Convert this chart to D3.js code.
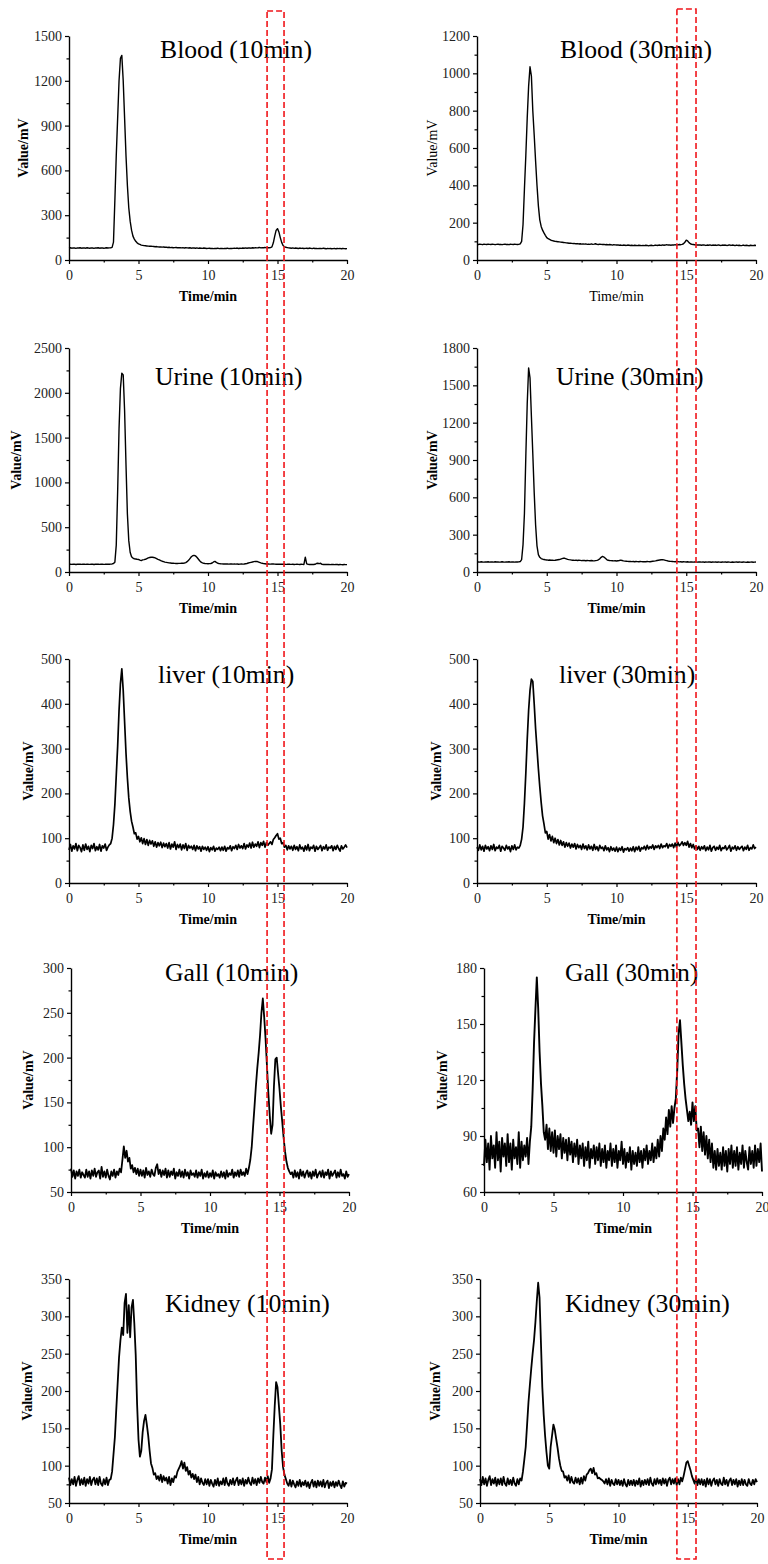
<!DOCTYPE html>
<html>
<head>
<meta charset="utf-8">
<script src="https://cdn.jsdelivr.net/npm/d3@7"></script>
<style>
body{margin:0;background:#fff}
svg{display:block}
</style>
</head>
<body>
<div id="chart"></div>
<script>
// sampling of every trace, minutes
var timeStep = 0.1
var xTicks = [0, 5, 10, 15, 20]
var xMinor = [2.5, 7.5, 12.5, 17.5]

var titles = ["Blood (10min)", "Blood (30min)", "Urine (10min)", "Urine (30min)", "liver (10min)",
  "liver (30min)", "Gall (10min)", "Gall (30min)", "Kidney (10min)", "Kidney (30min)"]
var yDomains = [[0,1500],[0,1200],[0,2500],[0,1800],[0,500],[0,500],[50,300],[60,180],[50,350],[50,350]]
var yTickSteps = [300, 200, 500, 300, 100, 100, 50, 30, 50, 50]
var boldLabels = [true, false, true, true, true, true, true, true, true, true]
// the dashed boxes, minutes on the left / right column
var boxLeft = [14.25, 15.47]
var boxRight = [14.33, 15.7]

var bloodTen = [
80,82,79,81,80,78,81,80,82,79,
80,81,79,82,80,79,81,80,78,81,
80,82,79,80,81,79,80,82,80,81,
82,85,120,400,700,950,1200,1350,1370,1200,
950,700,500,350,260,200,160,140,125,115,
108,104,100,98,96,95,94,93,92,92,
91,90,89,90,88,87,88,86,87,85,
86,84,85,83,84,82,83,84,82,83,
82,81,83,80,82,81,80,82,79,81,
80,79,81,78,80,79,78,80,79,77,
78,79,77,78,76,78,77,79,76,77,
78,76,78,77,79,76,78,77,78,79,
78,80,77,79,78,80,79,81,79,80,
81,79,82,80,83,81,82,84,81,83,
82,84,81,83,82,83,88,115,160,198,
210,188,150,118,97,89,85,83,81,80,
79,81,78,80,79,77,80,78,79,77,
78,79,77,80,78,76,79,77,78,76,
77,78,76,79,77,75,78,76,77,75,
76,78,75,77,76,78,75,77,76,75,
76]

var bloodThirty = [
84,83,85,84,82,85,84,83,85,84,
83,85,84,82,84,85,83,84,82,84,
85,83,84,82,85,84,83,85,84,83,
84,86,100,190,380,560,760,930,1035,985,
800,670,530,400,290,215,180,160,145,132,
120,114,110,106,104,102,100,99,98,97,
96,95,94,93,92,91,90,90,89,88,
88,87,88,86,87,85,86,85,86,84,
85,84,86,84,85,87,84,83,85,84,
83,84,82,83,81,83,82,80,82,81,
80,81,79,80,78,80,79,78,80,79,
78,79,77,79,78,77,79,78,77,78,
77,79,78,76,78,79,77,78,80,78,
79,80,78,81,79,80,82,80,81,79,
81,80,82,80,81,83,82,84,87,95,
106,102,93,87,84,83,82,81,80,81,
80,79,81,80,78,80,79,81,78,80,
79,80,78,81,79,78,80,79,80,78,
79,81,78,80,79,77,80,78,79,77,
78,80,77,79,78,76,79,78,77,79,
78]

var urineTen = [
86,88,85,87,86,84,87,86,88,85,
86,87,85,88,86,85,87,86,84,87,
86,88,85,86,87,85,86,88,86,87,
88,90,95,110,300,900,1600,2050,2220,2200,
1800,1200,650,350,220,170,155,148,145,142,
140,132,128,135,138,142,150,158,162,165,
165,162,158,150,142,135,128,120,115,110,
108,105,102,100,98,97,96,95,95,96,
96,97,98,100,105,115,130,150,170,182,
186,180,165,145,125,110,102,97,94,93,
92,93,95,100,112,119,108,98,94,92,
91,90,91,89,90,88,89,90,88,89,
88,89,87,88,90,88,89,92,95,100,
104,108,112,116,119,118,114,108,102,97,
94,92,90,91,89,88,90,89,88,87,
88,86,87,88,86,87,85,86,88,86,
85,86,84,85,87,85,84,86,85,84,
165,90,86,84,85,83,84,86,95,98,
94,97,85,84,83,85,84,83,82,84,
83,82,84,83,81,83,82,81,83,82,
82]

var urineThirty = [
80,81,79,82,80,79,81,80,82,79,
81,80,79,82,80,81,79,80,82,80,
79,81,80,82,79,81,80,79,81,80,
81,84,100,220,470,930,1350,1640,1560,1250,
950,640,380,210,140,118,108,104,100,98,
97,95,96,94,95,93,94,96,98,100,
104,108,111,110,106,102,99,97,95,94,
93,95,92,94,93,91,93,92,90,92,
91,90,92,90,89,91,93,98,106,118,
125,120,110,100,94,92,91,90,89,90,
88,90,92,95,92,89,87,86,85,84,
85,83,84,82,84,83,82,84,83,82,
83,82,84,83,82,84,86,87,89,92,
94,96,98,99,97,94,91,88,86,85,
84,83,82,84,83,81,82,80,82,81,
80,82,79,81,80,79,81,80,79,81,
80,79,81,78,80,79,81,80,78,80,
79,81,78,80,79,78,80,79,81,78,
80,79,77,80,78,79,81,78,80,79,
78,80,79,77,80,78,79,80,78,79,
80]

var liverTen = [
74,86,71,83,76,88,72,84,79,70,
85,73,87,75,82,70,84,77,88,72,
81,74,86,71,83,78,87,73,80,85,
88,100,130,175,240,305,385,445,478,430,
360,290,235,190,160,138,125,110,112,98,
104,92,101,88,99,86,97,84,95,87,
94,82,92,80,90,83,91,79,89,81,
88,78,90,76,87,80,92,75,86,79,
87,74,85,77,88,73,84,78,82,75,
84,72,83,76,81,71,82,75,80,73,
81,70,79,74,82,71,78,75,80,72,
80,73,82,71,79,76,83,72,81,77,
84,75,86,78,83,77,88,76,85,80,
89,78,91,80,87,82,92,79,90,84,
93,80,90,84,88,92,86,97,101,106,
110,98,100,88,90,80,84,74,83,76,
82,73,84,75,81,72,85,76,80,71,
83,74,86,72,80,77,84,71,82,75,
79,84,72,81,76,85,73,80,78,83,
72,82,75,84,77,71,83,76,80,85,
79]

var liverThirty = [
80,73,85,74,82,71,84,76,81,72,
83,75,86,72,80,77,84,71,82,78,
73,84,76,81,70,83,75,85,74,80,
78,84,98,125,178,245,320,385,430,455,
450,400,345,300,255,215,180,150,132,112,
115,98,108,94,104,90,100,88,97,85,
95,84,92,80,90,82,89,78,87,80,
88,76,86,79,84,75,87,77,83,74,
85,76,82,73,86,75,81,72,84,77,
80,72,83,74,79,70,81,73,78,71,
80,70,78,73,81,69,77,74,79,71,
78,72,81,70,80,74,82,71,79,76,
82,74,84,76,81,78,85,75,83,79,
84,77,87,79,83,81,88,78,86,82,
87,79,89,80,91,83,86,92,84,90,
84,93,80,88,79,86,76,83,75,82,
73,81,76,83,72,80,74,84,71,79,
82,73,80,75,84,72,79,77,83,74,
78,84,71,80,76,83,73,81,75,79,
82,72,80,75,84,73,79,76,85,77,
80]

var gallTen = [
76,67,74,65,73,68,75,66,72,69,
66,75,67,73,65,74,68,76,67,72,
74,65,78,67,73,66,75,68,64,73,
68,75,66,73,69,76,72,86,101,88,
96,84,88,76,80,72,77,70,76,68,
75,68,74,66,77,69,73,67,75,70,
68,77,81,70,75,67,74,69,76,66,
74,67,73,69,76,65,72,68,75,67,
73,66,75,68,72,65,74,69,71,67,
74,66,72,68,75,65,71,67,73,66,
71,67,74,65,72,68,70,66,73,67,
72,65,74,67,71,69,75,66,72,68,
74,67,75,69,72,68,76,70,77,86,
100,123,145,168,188,205,225,250,266,245,
220,190,160,135,115,125,168,198,200,182,
165,145,128,110,95,84,77,73,70,72,
66,74,67,72,65,75,68,73,66,71,
74,67,72,65,73,68,75,66,70,73,
67,74,66,72,69,75,65,73,68,71,
74,66,72,67,75,68,70,65,73,67,
70]

var gallThirty = [
74,88,76,86,72,90,78,85,73,92,
77,87,71,89,79,86,74,91,76,86,
72,88,78,84,75,92,73,87,77,85,
79,89,75,87,95,115,140,158,175,158,
135,118,106,92,88,96,83,94,82,92,
81,93,79,90,83,91,78,89,81,88,
77,89,80,87,76,86,79,88,75,85,
78,86,74,84,77,87,73,83,78,85,
75,84,77,86,74,83,76,85,73,82,
77,86,74,83,76,85,73,82,77,87,
75,83,73,81,76,84,72,82,75,81,
74,84,76,82,73,83,77,85,75,82,
77,86,76,84,78,88,79,90,82,94,
88,100,91,104,95,106,97,105,110,125,
145,152,140,128,118,110,104,98,103,96,
108,98,106,93,94,84,95,82,92,80,
90,78,88,76,86,73,82,72,83,74,
81,72,84,74,82,71,83,75,85,73,
82,74,84,72,81,75,85,73,82,76,
72,84,75,82,73,85,74,83,76,86,
71]

var kidneyTen = [
84,74,82,75,85,73,81,86,74,82,
75,84,73,82,76,85,74,81,84,75,
83,74,85,76,73,82,75,84,74,81,
82,92,115,138,175,210,245,268,285,275,
318,330,278,315,272,312,322,290,248,182,
135,112,120,145,160,168,155,140,120,103,
97,88,90,82,86,80,88,78,86,80,
84,76,85,74,83,78,86,84,92,96,
100,106,96,104,93,98,88,93,84,89,
82,88,78,85,75,83,77,74,82,75,
82,73,81,76,72,81,74,83,73,79,
75,83,74,84,76,73,81,75,83,74,
80,84,74,81,75,83,73,81,76,84,
77,74,84,76,82,74,83,77,85,78,
76,84,78,86,77,83,95,140,180,212,
205,180,155,120,98,88,82,76,73,81,
72,80,75,71,79,73,81,72,78,74,
80,72,78,70,77,81,72,79,71,80,
73,79,72,81,71,77,80,70,78,73,
79,71,78,73,80,74,70,79,72,77,
76]

var kidneyThirty = [
82,74,85,75,83,73,81,86,74,82,
76,84,73,82,75,83,74,85,76,73,
83,75,81,74,84,76,73,82,75,83,
80,92,108,125,155,185,208,230,250,268,
292,320,345,325,265,205,168,140,118,100,
96,125,140,155,148,136,124,110,100,93,
92,84,86,80,87,77,85,78,76,84,
77,83,75,84,76,86,80,88,90,94,
96,90,97,88,90,83,84,82,81,79,
76,82,75,83,73,81,76,74,82,75,
81,74,80,73,82,75,72,81,74,80,
74,81,73,80,75,83,72,80,74,81,
75,82,74,84,76,73,82,75,83,76,
81,74,83,76,82,73,81,84,75,82,
76,83,74,82,75,84,79,86,95,104,
106,100,94,86,81,76,85,74,82,75,
82,74,81,72,83,75,82,73,80,83,
75,81,73,82,76,74,84,75,81,73,
80,83,74,81,75,82,72,80,74,82,
74,81,75,73,82,76,74,81,75,82,
78]

var series = [bloodTen, bloodThirty, urineTen, urineThirty, liverTen,
  liverThirty, gallTen, gallThirty, kidneyTen, kidneyThirty]

// where each panel sits on the page
var layout = [
  {left:69, right:347, top:36, bottom:260, tx:160, ty:58, lab:46, sw:1.4},
  {left:477, right:756, top:36, bottom:260, tx:560, ty:58, lab:45, sw:1.4},
  {left:69, right:347, top:348, bottom:572, tx:155, ty:385, lab:53, sw:1.4},
  {left:477, right:756, top:348, bottom:572, tx:556, ty:385, lab:45, sw:1.4},
  {left:69, right:347, top:659, bottom:883, tx:158, ty:683, lab:41, sw:1.7},
  {left:477, right:756, top:659, bottom:883, tx:559, ty:683, lab:41, sw:1.7},
  {left:71, right:349, top:968, bottom:1192, tx:165, ty:981, lab:43, sw:1.8},
  {left:484, right:762, top:968, bottom:1192, tx:565, ty:981, lab:42, sw:1.9},
  {left:69, right:347, top:1279, bottom:1503, tx:165, ty:1312, lab:42, sw:1.8},
  {left:480, right:757, top:1279, bottom:1503, tx:565, ty:1312, lab:45, sw:1.8}
]

var width = 768
var height = 1564
var serif = '"Liberation Serif","Times New Roman",serif'

var svg = d3.select("#chart").append("svg")
  .attr("width", width)
  .attr("height", height)
  .attr("viewBox", [0, 0, width, height])

var xScales = []

series.forEach(function(values, p){
  var L = layout[p]
  var dom = yDomains[p]
  var step = yTickSteps[p]

  var x = d3.scaleLinear().domain([0, 20]).range([L.left, L.right])
  var y = d3.scaleLinear().domain(dom).range([L.bottom, L.top])
  xScales.push(x)

  var g = svg.append("g")

  // trace
  var line = d3.line()
    .x(function(d, i){ return x(i * timeStep) })
    .y(function(d){ return y(d) })

  g.append("path")
    .datum(values)
    .attr("fill", "none")
    .attr("stroke", "#000")
    .attr("stroke-width", L.sw)
    .attr("stroke-linejoin", "round")
    .attr("d", line)

  var yMajor = d3.range(dom[0], dom[1] + step / 2, step)
  var yMinor = d3.range(dom[0] + step / 2, dom[1], step)

  // minor ticks first, major axes on top
  g.append("g")
    .attr("transform", "translate(0," + L.bottom + ")")
    .call(d3.axisBottom(x).tickValues(xMinor).tickSize(2.5).tickFormat(""))
    .call(function(a){ a.select(".domain").remove() })
  g.append("g")
    .attr("transform", "translate(" + L.left + ",0)")
    .call(d3.axisLeft(y).tickValues(yMinor).tickSize(2.5).tickFormat(""))
    .call(function(a){ a.select(".domain").remove() })

  var xa = g.append("g")
    .attr("transform", "translate(0," + L.bottom + ")")
    .call(d3.axisBottom(x).tickValues(xTicks).tickFormat(d3.format("d"))
      .tickSize(4).tickSizeOuter(0).tickPadding(6))
  var ya = g.append("g")
    .attr("transform", "translate(" + L.left + ",0)")
    .call(d3.axisLeft(y).tickValues(yMajor).tickFormat(d3.format("d"))
      .tickSize(4).tickSizeOuter(0).tickPadding(3))

  g.selectAll(".tick line").attr("stroke", "#000").attr("stroke-width", 1.2)
  ;[xa, ya].forEach(function(a){
    a.attr("font-family", serif).attr("font-size", 14)
    a.select(".domain").attr("stroke", "#000").attr("stroke-width", 1.4)
    a.selectAll("text").attr("font-family", serif).attr("font-size", 14).attr("fill", "#222")
  })

  // title inside the plot
  g.append("text")
    .attr("x", L.tx)
    .attr("y", L.ty)
    .attr("font-family", serif)
    .attr("font-size", 25.7)
    .attr("fill", "#000")
    .text(titles[p])

  g.append("text")
    .attr("x", (L.left + L.right) / 2)
    .attr("y", L.bottom + 41)
    .attr("text-anchor", "middle")
    .attr("font-family", serif)
    .attr("font-size", 14)
    .attr("font-weight", boldLabels[p] ? "bold" : "normal")
    .text("Time/min")

  var cy = (L.top + L.bottom) / 2
  var lx = L.left - L.lab + 5
  g.append("text")
    .attr("transform", "translate(" + lx + "," + cy + ") rotate(-90)")
    .attr("text-anchor", "middle")
    .attr("font-family", serif)
    .attr("font-size", 14)
    .attr("font-weight", boldLabels[p] ? "bold" : "normal")
    .text("Value/mV")
})

// red dashed boxes across each column
var boxes = [
  {range: boxLeft, scale: xScales[0], top: 11},
  {range: boxRight, scale: xScales[1], top: 9}
]
svg.append("g")
  .selectAll("rect")
  .data(boxes)
  .join("rect")
  .attr("x", function(d){ return d.scale(d.range[0]) })
  .attr("width", function(d){ return d.scale(d.range[1]) - d.scale(d.range[0]) })
  .attr("y", function(d){ return d.top })
  .attr("height", function(d){ return 1559 - d.top })
  .attr("fill", "none")
  .attr("stroke", "#f0161b")
  .attr("stroke-width", 1.6)
  .attr("stroke-dasharray", "6,3")
</script>
</body>
</html>
